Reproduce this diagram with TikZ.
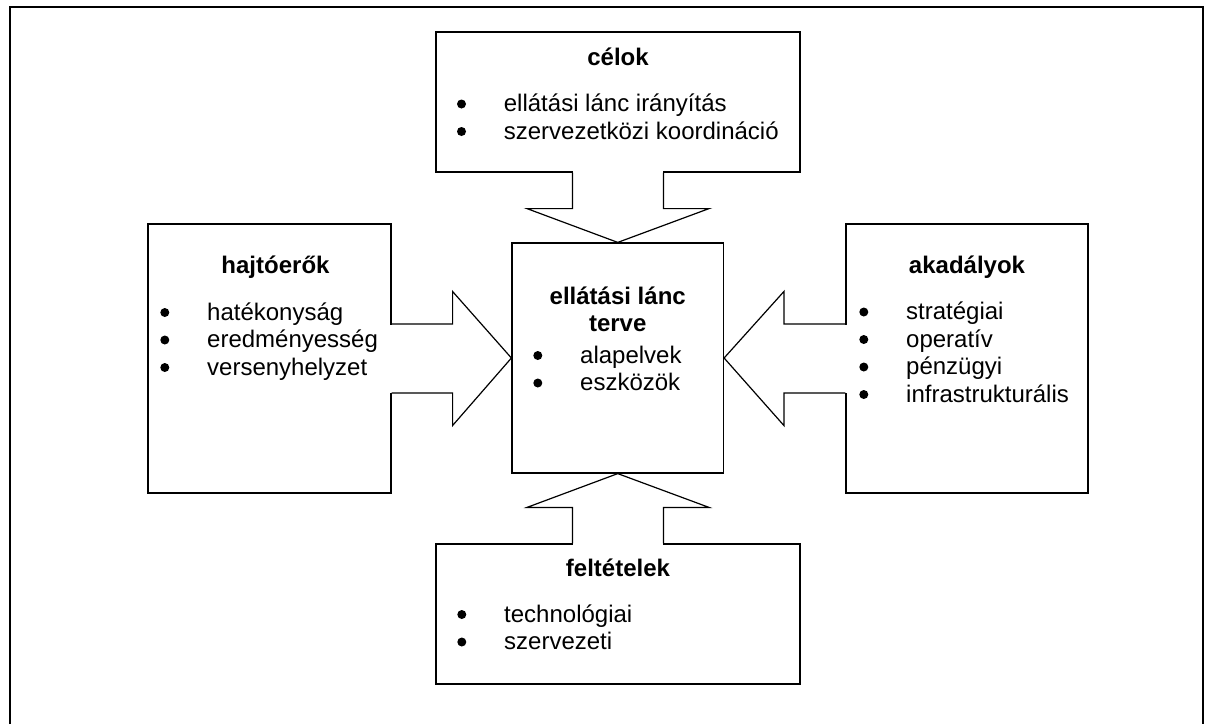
\documentclass[tikz,border=0pt]{standalone}
\usepackage{fontspec}
\setmainfont{Liberation Sans}
\usetikzlibrary{calc}

\tikzset{
  box/.style={draw, line width=0.6pt, inner sep=0pt},
  title/.style={anchor=base, inner sep=0pt, font=\fontsize{12pt}{13.75pt}\selectfont\bfseries},
  item/.style={anchor=base west, inner sep=0pt},
  bulletdot/.style={fill=black},
  blockarrow/.style={draw, line width=0.6pt, line join=miter},
  gap/.style={draw=white, line width=1.6pt},
  frame/.style={line width=1pt}
}

\begin{document}
\begin{tikzpicture}[x=0.5pt, y=-0.5pt, font=\fontsize{12pt}{13.75pt}\selectfont]
  \useasboundingbox (0,0) rectangle (1216,724);
  \draw[frame] (10,724) -- (10,7) -- (1203,7) -- (1203,724);

  % boxes
  \node[box, minimum width=182pt, minimum height=70pt] (celok) at (618,102) {};
  \node[box, minimum width=121.5pt, minimum height=134.5pt] (hajto) at (269.5,358.5) {};
  \node[box, minimum width=121pt, minimum height=134.5pt] (akad) at (967,358.5) {};
  \node[box, minimum width=182pt, minimum height=70pt] (felt) at (618,614) {};
  \node[box, minimum width=105.75pt, minimum height=115pt] (terv) at (617.75,358) {};

  % block arrows into the plan
  \draw[gap] ($(celok.south)+(-45,0)$) -- ($(celok.south)+(45,0)$);
  \draw[blockarrow] ($(celok.south)+(-45.5,0)$) -- ++(0,36) -- ++(-45.5,0) -- (terv.north)
    -- ($(celok.south)+(91,36)$) -- ++(-45.5,0) -- ($(celok.south)+(45.5,0)$);
  \draw[gap] ($(felt.north)+(-45,0)$) -- ($(felt.north)+(45,0)$);
  \draw[blockarrow] ($(felt.north)+(-45.5,0)$) -- ++(0,-36) -- ++(-45.5,0) -- (terv.south)
    -- ($(felt.north)+(91,-36)$) -- ++(-45.5,0) -- ($(felt.north)+(45.5,0)$);
  \draw[gap] ($(hajto.east)+(0,-34)$) -- ($(hajto.east)+(0,34)$);
  \draw[blockarrow] ($(hajto.east)+(0,-34.5)$) -- ++(61,0) -- ++(0,-32.5) -- (terv.west)
    -- ($(hajto.east)+(61,67)$) -- ++(0,-32.5) -- ($(hajto.east)+(0,34.5)$);
  \draw[gap] ($(akad.west)+(0,-34)$) -- ($(akad.west)+(0,34)$);
  \draw[blockarrow] ($(akad.west)+(0,-34.5)$) -- ++(-61.5,0) -- ++(0,-32.5) -- (terv.east)
    -- ($(akad.west)+(-61.5,67)$) -- ++(0,-32.5) -- ($(akad.west)+(0,34.5)$);

  % texts
  \node[title] (celok-t) at (618,65) {célok};
  \foreach \t [count=\i] in {ellátási lánc irányítás, szervezetközi koordináció} {
    \node[item] (celok-\i) at (503.5,{111.5+27.5*(\i-1)}) {\t};
    \fill[bulletdot] ($(celok-\i.base west)+(-42,-7.5)$) circle (2.25pt);
  }

  \node[title] (hajto-t) at (275.5,273) {hajtóerők};
  \foreach \t [count=\i] in {hatékonyság, eredményesség, versenyhelyzet} {
    \node[item] (hajto-\i) at (206.8,{320+27.5*(\i-1)}) {\t};
    \fill[bulletdot] ($(hajto-\i.base west)+(-42,-7.5)$) circle (2.25pt);
  }

  \node[title] (akad-t) at (967,273) {akadályok};
  \foreach \t [count=\i] in {stratégiai, operatív, pénzügyi, infrastrukturális} {
    \node[item] (akad-\i) at (905.8,{319.5+27.5*(\i-1)}) {\t};
    \fill[bulletdot] ($(akad-\i.base west)+(-42,-7.5)$) circle (2.25pt);
  }

  \node[title] (felt-t) at (618,576) {feltételek};
  \foreach \t [count=\i] in {technológiai, szervezeti} {
    \node[item] (felt-\i) at (503.8,{622+27.5*(\i-1)}) {\t};
    \fill[bulletdot] ($(felt-\i.base west)+(-42,-7.5)$) circle (2.25pt);
  }

  \node[title] (terv-t1) at (617.75,304) {ellátási lánc};
  \node[title] (terv-t2) at (617.75,331.5) {terve};
  \foreach \t [count=\i] in {alapelvek, eszközök} {
    \node[item] (terv-\i) at (579.8,{363+27.5*(\i-1)}) {\t};
    \fill[bulletdot] ($(terv-\i.base west)+(-42,-7.5)$) circle (2.25pt);
  }
\end{tikzpicture}
\end{document}
